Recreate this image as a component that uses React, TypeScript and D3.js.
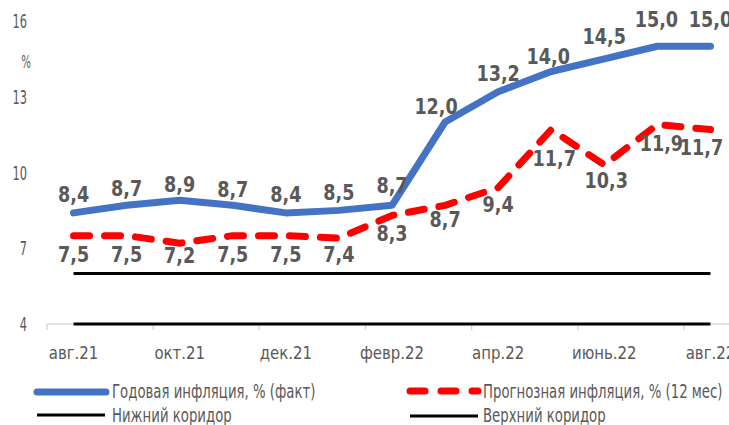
import React from "react";
import * as d3 from "d3";

const categories = ["авг.21","сент.21","окт.21","нояб.21","дек.21","янв.22","февр.22","март.22","апр.22","май.22","июнь.22","июль.22","авг.22"];
const actual = [8.4, 8.7, 8.9, 8.7, 8.4, 8.5, 8.7, 12.0, 13.2, 14.0, 14.5, 15.0, 15.0];
const forecast = [7.5, 7.5, 7.2, 7.5, 7.5, 7.4, 8.3, 8.7, 9.4, 11.7, 10.3, 11.9, 11.7];
const lowerCorridor = [4, 4, 4, 4, 4, 4, 4, 4, 4, 4, 4, 4, 4];
const upperCorridor = [6, 6, 6, 6, 6, 6, 6, 6, 6, 6, 6, 6, 6];
const yTicks = [4, 7, 10, 13, 16];
const seriesNames = ["Годовая инфляция, % (факт)", "Прогнозная инфляция, % (12 мес)", "Нижний коридор", "Верхний коридор"];

// label placement tweaks (styling, pixels)
const actualLabelDy = [-11, -9, -8, -8, -11, -10, -12, -8, -11, -8, -15, -19, -19];
const actualLabelDx = [0, 0, 0, 0, 0, 0, 0, -9, 0, -3, 0, -1, 0];
const forecastLabelDy = [26, 26, 20, 26, 26, 24, 26, 22, 24, 36, 23, 26, 25];
const forecastLabelDx = [0, 0, 0, 0, 0, 0, 0, 0, 0, 3, 2, 4, -9];

const FONT = "'DejaVu Sans', sans-serif";
const GRAY = "#595959";
const BLUE = "#4472C4";
const RED = "#FF0000";

type TP = { x: number; y: number; sx: number; size: number; anchor?: string; bold?: boolean; children: React.ReactNode };
function T({ x, y, sx, size, anchor = "start", bold = false, children }: TP) {
  return (
    <g transform={`translate(${x},${y}) scale(${sx},1)`}>
      <text x={0} y={0} textAnchor={anchor} fontSize={size} fontWeight={bold ? "bold" : "normal"} fill={GRAY}>{children}</text>
    </g>
  );
}

export default function App() {
  const W = 729, H = 425;
  const x = d3.scaleBand<string>().domain(categories).range([47, 737]);
  const cx = (i: number) => (x(categories[i]) as number) + x.bandwidth() / 2;
  const y = d3.scaleLinear().domain([4, 16]).range([324, 21]);
  const line = d3.line<number>().x((_, i) => cx(i)).y((d) => y(d));
  const fmt = (v: number) => v.toFixed(1).replace(".", ",");
  const fmtTick = (v: number) => String(v);

  return (
    <div style={{ position: "fixed", left: 0, top: 0 }}>
      <svg width={W} height={H} style={{ display: "block", background: "#fff" }} fontFamily={FONT}>
        {/* x axis */}
        <line x1={47} x2={729} y1={324} y2={324} stroke="#D9D9D9" strokeWidth={1.5} />
        {categories.map((c, i) =>
          i % 2 === 0 ? (
            <g key={c}>
              <line x1={x(c) as number} x2={x(c) as number} y1={324} y2={330} stroke="#D9D9D9" strokeWidth={1.5} />
              <T x={cx(i)} y={359} sx={0.83} size={18} anchor="middle">{c}</T>
            </g>
          ) : null
        )}
        {/* y ticks */}
        {yTicks.map((t) => (
          <T key={t} x={27} y={y(t) + 7} sx={0.6} size={19} anchor="end">{fmtTick(t)}</T>
        ))}
        <T x={26} y={68} sx={0.6} size={17} anchor="middle">%</T>

        {/* corridors */}
        <path d={line(lowerCorridor) || ""} fill="none" stroke="#000" strokeWidth={3} />
        <path d={line(upperCorridor) || ""} fill="none" stroke="#000" strokeWidth={3} />

        {/* forecast */}
        <path d={line(forecast) || ""} fill="none" stroke={RED} strokeWidth={7} strokeDasharray="16 15" strokeLinecap="round" strokeLinejoin="round" />
        {/* actual */}
        <path d={line(actual) || ""} fill="none" stroke={BLUE} strokeWidth={7} strokeLinecap="round" strokeLinejoin="round" />

        {actual.map((v, i) => (
          <T key={"a" + i} x={cx(i) + actualLabelDx[i]} y={y(v) + actualLabelDy[i]} sx={0.8} size={22} anchor="middle" bold>{fmt(v)}</T>
        ))}
        {forecast.map((v, i) => (
          <T key={"f" + i} x={cx(i) + forecastLabelDx[i]} y={y(v) + forecastLabelDy[i]} sx={0.8} size={22} anchor="middle" bold>{fmt(v)}</T>
        ))}

        {/* legend */}
        <line x1={37} x2={106} y1={392} y2={392} stroke={BLUE} strokeWidth={7} strokeLinecap="round" />
        <T x={112} y={398} sx={0.7} size={19}>{seriesNames[0]}</T>
        <line x1={410} x2={478} y1={391} y2={391} stroke={RED} strokeWidth={7} strokeLinecap="round" strokeDasharray="15 16" />
        <T x={483} y={398} sx={0.7} size={19}>{seriesNames[1]}</T>
        <line x1={37} x2={105} y1={415} y2={415} stroke="#000" strokeWidth={3} />
        <T x={112} y={422} sx={0.7} size={19}>{seriesNames[2]}</T>
        <line x1={410} x2={478} y1={416} y2={416} stroke="#000" strokeWidth={3} />
        <T x={483} y={422} sx={0.7} size={19}>{seriesNames[3]}</T>
      </svg>
    </div>
  );
}
